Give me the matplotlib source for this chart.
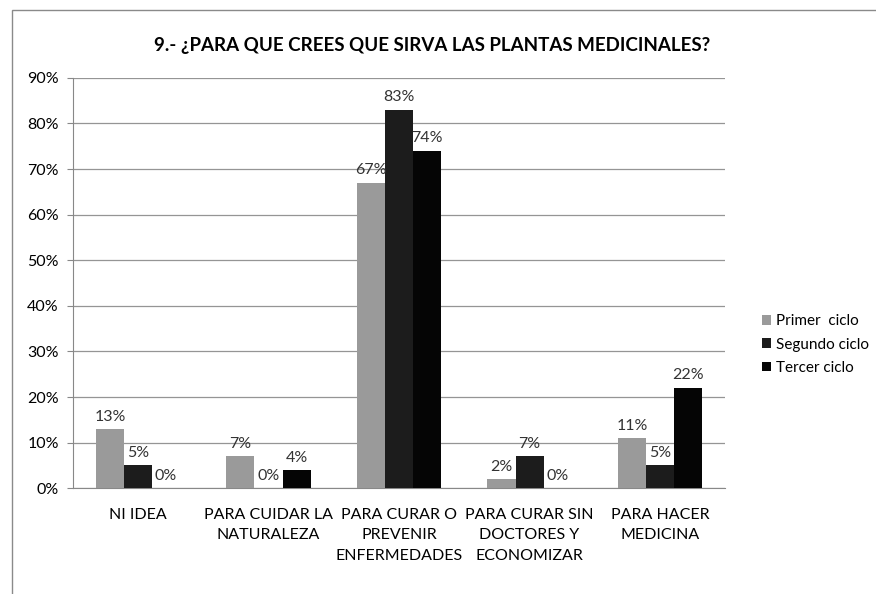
import matplotlib.pyplot as plt
import numpy as np
from matplotlib.patches import Rectangle

plt.rcParams["font.family"] = ["Lato", "DejaVu Sans"]
plt.rcParams["font.size"] = 11

CATEGORIES = [
    "NI IDEA",
    "PARA CUIDAR LA\nNATURALEZA",
    "PARA CURAR O\nPREVENIR\nENFERMEDADES",
    "PARA CURAR SIN\nDOCTORES Y\nECONOMIZAR",
    "PARA HACER\nMEDICINA",
]
SERIES_NAMES = ["Primer  ciclo", "Segundo ciclo", "Tercer ciclo"]
PRIMER = [13, 7, 67, 2, 11]
SEGUNDO = [5, 0, 83, 7, 5]
TERCER = [0, 4, 74, 0, 22]
COLORS = ["#9a9a9a", "#1c1c1c", "#050505"]


def main():
    fig = plt.figure(figsize=(8.76, 5.94), dpi=100)
    ax = fig.add_axes([0.083, 0.178, 0.745, 0.691])

    # marco del gráfico
    fig.patches.append(Rectangle((0.014, -0.01), 1.0, 0.993, transform=fig.transFigure,
                                 fill=False, edgecolor="#8a8a8a", linewidth=1.0))

    x = np.arange(len(CATEGORIES))
    width = 0.215
    for i, (vals, name, color) in enumerate(zip([PRIMER, SEGUNDO, TERCER], SERIES_NAMES, COLORS)):
        pos = x + (i - 1) * width
        bars = ax.bar(pos, vals, width, color=color, label=name, zorder=3)
        for b, v in zip(bars, vals):
            ax.text(b.get_x() + b.get_width() / 2, v + 1.2, f"{v}%", ha="center", va="bottom",
                    fontsize=11.5, color="#333333", zorder=4)

    ax.set_xlim(-0.5, len(CATEGORIES) - 0.5)
    ax.set_ylim(0, 90)
    ax.set_yticks(range(0, 91, 10))
    ax.set_yticklabels([f"{v}%" for v in range(0, 91, 10)])
    ax.set_xticks(x)
    ax.set_xticklabels(CATEGORIES, linespacing=1.6)
    ax.tick_params(axis="x", length=0, pad=14, labelsize=11.5)
    ax.tick_params(axis="y", length=4, color="#888888", pad=6, labelsize=11.5)
    ax.yaxis.grid(True, color="#959595", linewidth=0.9, zorder=0)
    for side in ["top", "right"]:
        ax.spines[side].set_visible(False)
    ax.spines["left"].set_color("#888888")
    ax.spines["bottom"].set_color("#888888")

    fig.text(0.493, 0.923, "9.- ¿PARA QUE CREES QUE SIRVA LAS PLANTAS MEDICINALES?",
             ha="center", va="center", fontsize=13.5, fontweight="bold")

    ax.legend(loc="center left", bbox_to_anchor=(1.035, 0.35), frameon=False,
              handlelength=0.6, handleheight=0.6, handletextpad=0.3, labelspacing=0.6,
              fontsize=11)

    plt.savefig("out.png", dpi=100)


if __name__ == "__main__":
    main()
